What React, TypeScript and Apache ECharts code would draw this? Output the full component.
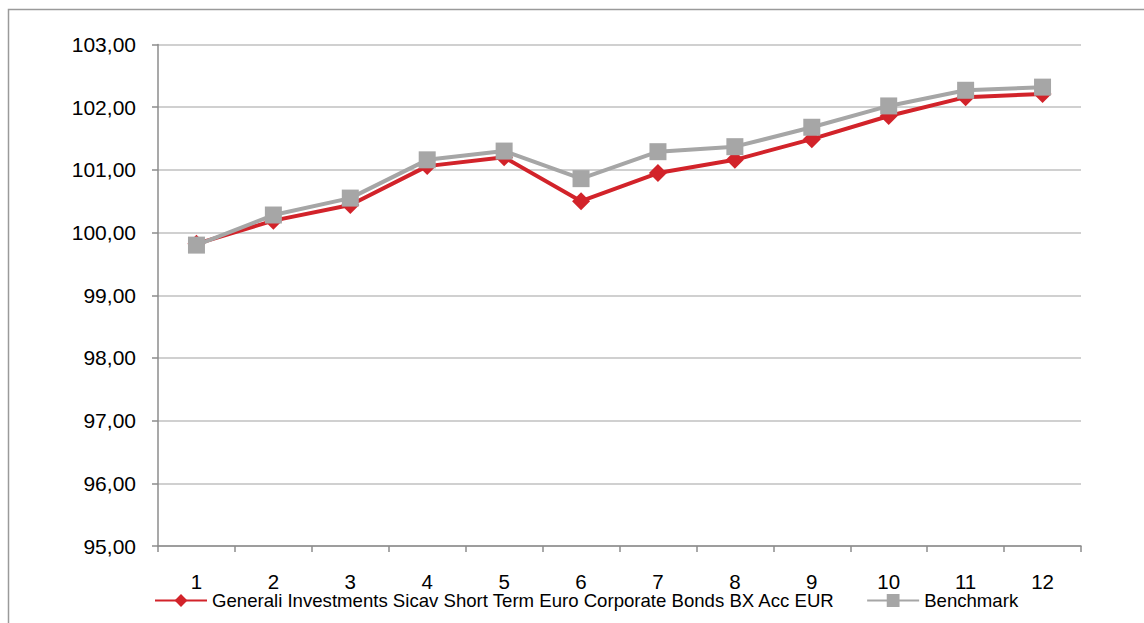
import React, { useEffect, useRef } from "react";
import * as echarts from "echarts";

const categories = ["1", "2", "3", "4", "5", "6", "7", "8", "9", "10", "11", "12"];
const fundName = "Generali Investments Sicav Short Term Euro Corporate Bonds BX Acc EUR";
const benchName = "Benchmark";
const fundValues = [99.82, 100.19, 100.44, 101.06, 101.2, 100.5, 100.95, 101.16, 101.49, 101.86, 102.16, 102.21];
const benchValues = [99.8, 100.28, 100.55, 101.16, 101.3, 100.86, 101.29, 101.37, 101.68, 102.02, 102.27, 102.32];
const yMin = 95;
const yMax = 103;
const yStep = 1;

const FONT = "'Liberation Sans', Arial, sans-serif";

export default function App() {
  const ref = useRef<HTMLDivElement>(null);
  useEffect(() => {
    if (!ref.current) return;
    const chart = echarts.init(ref.current, null, { renderer: "svg" });
    chart.setOption({
      animation: false,
      backgroundColor: "#ffffff",
      textStyle: { fontFamily: FONT },
      graphic: [
        {
          type: "rect",
          shape: { x: 8.5, y: 9.5, width: 1300, height: 800 },
          style: { fill: "none", stroke: "#9a9a9a", lineWidth: 1.5 },
          silent: true,
        },
      ],
      grid: { left: 158, right: 63, top: 44.5, bottom: 77, containLabel: false },
      legend: {
        left: 149,
        top: 586,
        itemWidth: 52,
        itemHeight: 16,
        itemGap: 31,
        textStyle: { fontSize: 18.6, color: "#000", fontFamily: FONT },
        data: [fundName, benchName],
      },
      xAxis: {
        type: "category",
        data: categories,
        boundaryGap: true,
        axisLine: { lineStyle: { color: "#8c8c8c", width: 1.5 } },
        axisTick: { show: true, length: 6, alignWithLabel: false, lineStyle: { color: "#8c8c8c", width: 1.5 } },
        axisLabel: { fontSize: 20.5, color: "#000", margin: 25, fontFamily: FONT },
        splitLine: { show: false },
      },
      yAxis: {
        type: "value",
        min: yMin,
        max: yMax,
        interval: yStep,
        axisLine: { show: true, lineStyle: { color: "#8c8c8c", width: 1.5 } },
        axisTick: { show: true, length: 6, lineStyle: { color: "#8c8c8c", width: 1.5 } },
        axisLabel: {
          fontSize: 21,
          color: "#000",
          margin: 22,
          fontFamily: FONT,
          formatter: (v: number) => v.toFixed(2).replace(".", ","),
        },
        splitLine: { show: true, lineStyle: { color: "#c0c0c0", width: 1.5 } },
      },
      series: [
        {
          name: fundName,
          type: "line",
          data: fundValues,
          symbol: "diamond",
          symbolSize: 18,
          lineStyle: { color: "#d2232a", width: 4 },
          itemStyle: { color: "#d2232a" },
          z: 2,
        },
        {
          name: benchName,
          type: "line",
          data: benchValues,
          symbol: "rect",
          symbolSize: 17,
          lineStyle: { color: "#a6a6a6", width: 4 },
          itemStyle: { color: "#a6a6a6" },
          z: 3,
        },
      ],
    });
    return () => chart.dispose();
  }, []);
  return (
    <div
      ref={ref}
      style={{ position: "absolute", left: 0, top: 0, width: 1144, height: 623 }}
    />
  );
}
